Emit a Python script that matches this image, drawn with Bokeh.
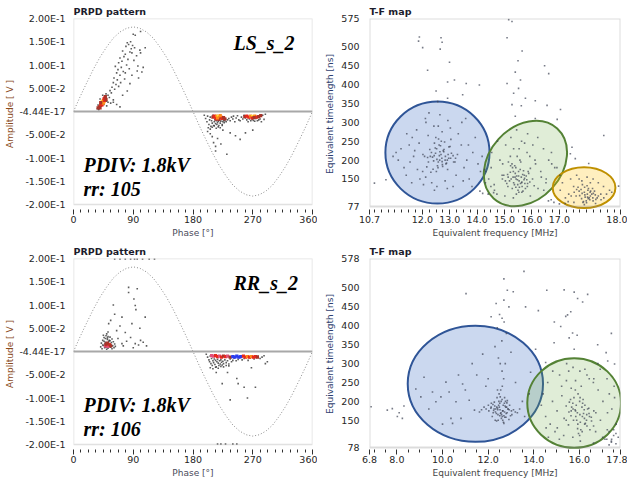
from bokeh.plotting import figure
from bokeh.layouts import column, row
from bokeh.models import FixedTicker, BoxAnnotation, Span, Label
from bokeh.embed import file_html
from bokeh.resources import INLINE

# ---------------------------------------------------------------- data
sine_phase = [0, 10, 20, 30, 40, 50, 60, 70, 80, 90, 100, 110, 120, 130, 140, 150, 160, 170, 180,
              190, 200, 210, 220, 230, 240, 250, 260, 270, 280, 290, 300, 310, 320, 330, 340, 350, 360]
sine_amp = [0, 0.032, 0.062, 0.091, 0.117, 0.139, 0.158, 0.171, 0.179, 0.182, 0.179, 0.171, 0.158,
            0.139, 0.117, 0.091, 0.062, 0.032, 0, -0.032, -0.062, -0.091, -0.117, -0.139, -0.158,
            -0.171, -0.179, -0.182, -0.179, -0.171, -0.158, -0.139, -0.117, -0.091, -0.062, -0.032, 0]

prpd_xticks = [0, 90, 180, 270, 360]
prpd_yticks = [0.2, 0.15, 0.1, 0.05, 0.0, -0.05, -0.1, -0.15, -0.2]
prpd_ytick_labels = ["2.00E-1", "1.50E-1", "1.00E-1", "5.00E-2", "-4.44E-17",
                     "-5.00E-2", "-1.00E-1", "-1.50E-1", "-2.00E-1"]

ls_texts = ["LS_s_2", "PDIV: 1.8kV", "rr: 105"]
rr_texts = ["RR_s_2", "PDIV: 1.8kV", "rr: 106"]

# LS PRPD: (phase deg, amplitude V)
ls_dots = [(40,0.012),(42,0.018),(46,0.015),(48,0.028),(50,0.022),(52,0.035),(54,0.030),(55,0.045),(57,0.040),(58,0.052),
           (60,0.025),(60,0.062),(61,0.072),(62,0.048),(63,0.097),(64,0.058),(65,0.083),(66,0.068),(67,0.090),(68,0.054),
           (68,0.105),(70,0.078),(70,0.115),(71,0.062),(72,0.095),(73,0.108),(74,0.035),(74,0.130),(75,0.086),(76,0.118),
           (77,0.070),(78,0.123),(78,0.083),(79,0.140),(80,0.100),(81,0.044),(81,0.148),(82,0.112),(83,0.144),(84,0.092),
           (85,0.128),(85,0.060),(86,0.150),(87,0.135),(88,0.126),(88,0.078),(89,0.142),(90,0.166),(91,0.110),(92,0.137),
           (93,0.164),(95,0.120),(96,0.087),(97,0.098),(98,0.072),(100,0.132),(101,0.126),(101,0.172),(103,0.085),(105,0.095),
           (108,0.137),(60,0.020),(65,0.015),(70,0.010),(56,0.018),(36,0.006),(38,0.004),(40,0.027),(50,0.012),(52,0.020),
           (49,0.038),(44,0.035),(37,0.014),
           (197,-0.008),(199,-0.015),(201,-0.022),(202,-0.010),(204,-0.028),(205,-0.018),(206,-0.012),(207,-0.032),(208,-0.020),
           (209,-0.025),(210,-0.008),(211,-0.030),(212,-0.022),(213,-0.018),(214,-0.026),(215,-0.020),(216,-0.028),(217,-0.024),
           (218,-0.021),(219,-0.030),(220,-0.019),(221,-0.025),(222,-0.021),(223,-0.017),(224,-0.028),(225,-0.022),(226,-0.019),
           (227,-0.024),(228,-0.020),(229,-0.016),(230,-0.022),(232,-0.018),(234,-0.015),(236,-0.020),(238,-0.012),(240,-0.016),
           (241,-0.010),(243,-0.022),(245,-0.014),(247,-0.009),(249,-0.018),(251,-0.020),(253,-0.012),(255,-0.016),(257,-0.008),
           (259,-0.014),(261,-0.018),(263,-0.022),(265,-0.016),(267,-0.020),(269,-0.017),(271,-0.019),(273,-0.021),(275,-0.015),
           (277,-0.020),(279,-0.018),(281,-0.016),(283,-0.022),(285,-0.008),(287,-0.017),(289,-0.006),(203,-0.035),(206,-0.038),
           (209,-0.034),(212,-0.031),(215,-0.036),(218,-0.033),(221,-0.035),(224,-0.030),
           (202,-0.043),(209,-0.054),(211,-0.067),(214,-0.075),(231,-0.092),(251,-0.060),(259,-0.046),(206,-0.048),(217,-0.058),
           (225,-0.040),(236,-0.046),(244,-0.052),(270,-0.040),(214,-0.085),(222,-0.070)]
# hot spots: (phase, amplitude, intensity level)
ls_hot = [(39,0.010,0),(41,0.013,1),(42,0.017,1),(43,0.020,2),(44,0.022,3),(45,0.024,2),(46,0.027,1),(47,0.029,1),
          (48,0.032,0),(43,0.014,1),(45,0.018,2),(46,0.021,2),(47,0.024,1),(41,0.019,0),(49,0.026,0),(40,0.008,0),(37,0.008,0),
          (210,-0.012,0),(212,-0.010,1),(214,-0.012,1),(216,-0.010,2),(218,-0.011,3),(220,-0.013,2),(222,-0.012,1),
          (224,-0.015,1),(226,-0.013,0),(228,-0.016,0),(215,-0.016,1),(219,-0.017,0),(221,-0.009,2),(217,-0.014,2),
          (258,-0.011,0),(261,-0.010,1),(264,-0.012,1),(267,-0.010,2),(270,-0.011,3),(273,-0.010,2),(276,-0.012,1),
          (279,-0.011,0),(282,-0.009,0),(269,-0.014,1),(272,-0.013,0)]

# RR PRPD
rr_dots = [(41,0.010),(42,0.018),(43,0.006),(44,0.024),(45,0.013),(46,0.030),(47,0.008),(48,0.020),(49,0.034),(50,0.012),
           (51,0.026),(52,0.007),(53,0.022),(54,0.016),(55,0.031),(56,0.009),(57,0.019),(58,0.027),(59,0.012),(60,0.021),
           (61,0.008),(62,0.016),(63,0.011),(44,0.014),(46,0.022),(48,0.028),(50,0.005),(52,0.032),(54,0.024),(56,0.014),
           (58,0.006),(45,0.035),(47,0.016),(49,0.009),(51,0.029),(53,0.018),(55,0.023),(57,0.013),(50,0.038),(52,0.042),
           (83,0.138),(96,0.135),(91,0.113),(93,0.099),(108,0.074),(73,0.074),(53,0.060),(78,0.041),(93,0.017),(73,0.017),
           (98,0.014),(83,0.127),(94,0.090),(56,0.067),(101,0.024),(65,0.045),(70,0.055),(86,0.030),(105,0.020),(62,0.080),
           (88,0.060),(110,0.012),(67,0.028),(80,0.022),(75,0.012),(90,0.008),(60,0.100),(100,0.050),
           (62,0.199),(70,0.199),(78,0.199),(86,0.199),(92,0.199),(96,0.199),(104,0.199),(114,0.199),(122,0.199),
           (200,-0.006),(202,-0.012),(204,-0.018),(205,-0.022),(206,-0.010),(207,-0.026),(208,-0.015),(209,-0.030),(210,-0.020),
           (211,-0.024),(212,-0.016),(213,-0.028),(214,-0.019),(215,-0.033),(216,-0.022),(217,-0.017),(218,-0.025),(219,-0.030),
           (220,-0.020),(221,-0.027),(222,-0.018),(223,-0.023),(224,-0.029),(225,-0.021),(226,-0.026),(228,-0.018),(230,-0.024),
           (232,-0.020),(234,-0.027),(236,-0.016),(238,-0.022),(240,-0.019),(242,-0.014),(245,-0.020),(248,-0.017),(251,-0.013),
           (254,-0.018),(257,-0.015),(260,-0.012),(263,-0.019),(266,-0.014),(269,-0.011),(272,-0.016),(275,-0.013),(278,-0.010),
           (281,-0.015),(284,-0.012),(287,-0.009),(206,-0.035),(210,-0.037),(214,-0.034),(218,-0.036),(222,-0.032),(226,-0.033),
           (230,-0.030),(234,-0.031),
           (224,-0.069),(248,-0.069),(257,-0.077),(274,-0.077),(262,-0.100),(236,-0.104),(232,-0.045),(289,-0.026),(292,-0.022),
           (268,-0.035),(215,-0.045),(246,-0.058),
           (217,-0.199),(222,-0.199),(229,-0.199),(240,-0.199),(246,-0.199)]
rr_hot = [(48,0.012,5),(50,0.014,1),(52,0.011,5),(54,0.015,1),(51,0.018,0),(56,0.012,0),(49,0.016,0),
          (208,-0.009,5),(211,-0.010,5),(214,-0.009,1),(217,-0.011,1),(220,-0.010,5),(223,-0.012,1),(226,-0.010,0),
          (229,-0.011,1),(232,-0.010,5),(236,-0.012,0),(240,-0.011,4),(243,-0.012,4),(246,-0.010,4),(249,-0.012,4),
          (252,-0.011,4),(256,-0.010,1),(259,-0.012,1),(262,-0.011,2),(265,-0.012,1),(268,-0.011,2),(271,-0.012,1),
          (274,-0.011,1),(277,-0.012,0)]

# LS T-F map (frequency MHz, timelength ns)
tf1_xticks = [10.07, 12.0, 13.0, 14.0, 15.0, 16.0, 17.0, 19.23]
tf1_xtick_labels = ["10.7", "12.0", "13.0", "14.0", "15.0", "16.0", "17.0", "18.0"]
tf1_yticks = [77, 150, 200, 250, 300, 350, 400, 450, 500, 575]
tf1_clusters = ["blue", "green", "yellow"]
tf1_ell_f = [12.55, 15.76, 17.90]
tf1_ell_t = [220, 191, 127]
tf1_ell_w = [3.80, 3.45, 2.29]
tf1_ell_h = [270, 192.5, 108]
tf1_ell_angle = [0.0, 0.834, 0.0]
tf1_dots = [(12.62,212),(12.71,205),(12.48,218),(12.83,200),(12.37,208),(12.94,215),(12.58,195),(12.76,225),(12.29,210),(13.03,205),
            (12.52,230),(12.86,190),(12.64,222),(12.41,198),(12.97,235),(12.68,215),(12.19,207),(13.12,212),(12.55,185),(12.79,228),
            (12.61,240),(12.33,220),(12.91,200),(12.73,188),(12.44,245),(13.06,218),(12.08,210),(12.57,180),(12.84,210),(12.47,232),
            (12.22,195),(13.21,205),(12.69,250),(12.39,176),(12.88,192),(12.63,200),(12.27,228),(13.01,236),(12.51,170),(12.81,248),
            (12.02,215),(12.74,183),(12.59,256),(12.43,212),(13.14,195),(12.92,175),(12.16,182),(12.53,202),(12.78,222),(12.66,238),
            (12.31,168),(13.28,215),(12.72,196),(12.49,260),(12.96,205),
            (11.12,200),(11.33,180),(11.04,220),(11.52,240),(11.41,160),(11.68,210),(11.63,260),(11.82,175),(11.22,230),(11.91,150),
            (11.55,195),(11.79,280),(12.04,135),(12.13,300),(11.72,225),(12.21,265),(12.01,170),(12.34,140),(12.11,310),(12.42,290),
            (12.64,320),(12.83,145),(13.02,285),(12.53,130),(13.23,160),(13.42,240),(13.31,270),(13.62,200),(13.52,180),(13.84,220),
            (13.71,150),(14.03,190),(13.93,260),(14.18,210),(13.44,300),(13.12,130),(12.93,305),(12.72,275),(12.24,325),(11.61,140),
            (13.58,310),(14.12,170),(13.81,130),(12.44,120),(13.04,255),(11.43,270),(12.91,125),(13.49,145),(11.88,245),(12.58,290),
            (13.19,195),(10.93,210),(14.27,175),(12.12,155),(13.68,240),
            (15.42,150),(15.53,145),(15.61,155),(15.33,140),(15.72,160),(15.48,135),(15.24,150),(15.81,148),(15.39,165),(15.64,130),
            (15.13,155),(15.92,142),(15.51,170),(15.28,125),(15.74,138),(15.44,158),(15.57,175),(15.03,145),(16.02,150),(15.49,120),
            (15.21,168),(15.83,130),(15.37,185),(15.66,162),(15.31,155),(15.69,172),(15.54,128),(15.08,138),(15.88,165),(15.41,180),
            (15.62,140),(15.27,190),(15.79,158),(15.52,115),(15.18,145),(15.73,152),(15.36,135),(15.59,195),(14.97,160),(15.94,178),
            (15.47,148),(15.32,170),(15.76,125),(15.43,110),(15.63,142),(15.22,185),(15.84,138),(15.56,200),(15.11,162),(16.08,132),
            (15.38,155),(15.67,118),(15.29,180),(15.71,148),(15.46,210),(14.92,150),(15.86,170),(15.41,128),(15.58,138),(15.51,158),
            (14.42,150),(14.63,120),(14.51,180),(14.83,200),(14.72,110),(15.04,240),(14.91,160),(15.23,260),(15.12,130),(15.44,280),
            (15.33,230),(15.62,250),(15.84,270),(16.03,240),(15.92,210),(16.21,260),(16.13,190),(16.42,230),(16.32,170),(16.61,200),
            (16.52,150),(16.83,180),(16.71,220),(17.02,160),(14.53,220),(14.74,250),(15.01,105),(15.32,100),(15.63,115),(15.94,105),
            (16.22,125),(16.51,140),(14.62,135),(14.93,190),(15.21,210),(15.53,230),(15.82,220),(16.11,200),(16.43,120),(16.72,190),
            (14.31,170),(15.14,195),(15.73,245),(16.34,155),(16.91,180),
            (18.02,110),(18.13,105),(17.91,115),(18.22,100),(17.83,112),(18.04,120),(18.31,108),(17.72,118),(18.11,95),(17.94,102),
            (18.06,125),(18.24,112),(17.81,98),(18.42,105),(17.63,122),(17.98,92),(18.14,118),(17.92,128),(18.33,96),(17.74,106),
            (18.21,125),(17.86,88),(18.03,102),(18.12,115),(17.88,90),(18.51,110),(17.54,115),(18.01,132),(18.23,92),(17.79,122),
            (18.09,100),(17.93,108),(18.28,118),(17.68,128),(18.05,98),(18.38,100),(17.61,105),(18.18,110),(17.84,135),(17.99,87),
            (17.03,120),(17.22,100),(17.11,140),(17.32,90),(17.41,150),(17.52,130),(17.34,110),(17.63,160),(17.82,145),(18.01,155),
            (18.23,150),(18.42,140),(18.61,130),(18.72,110),(18.83,120),(18.52,95),(17.21,85),(17.53,88),(17.91,82),(18.32,85),
            (18.62,100),(17.43,105),(17.72,150),(18.13,140),(18.91,115),
            (11.89,526),(12.01,498),(11.86,515),(12.68,524),(12.65,494),(12.72,512),(12.99,459),(12.19,438),(13.17,412),(12.92,407),
            (13.60,403),(14.08,399),(12.50,383),(13.47,373),(12.92,364),(12.56,355),(10.25,139),(10.67,148),(15.15,572),(15.27,567),
            (15.09,524),(15.64,489),(15.49,463),(16.46,450),(15.39,433),(16.61,429),(15.58,412),(15.09,403),(15.51,390),(15.33,377),
            (15.76,364),(15.27,347),(15.61,344),(16.12,357),(16.55,345),(17.04,334),(15.39,316),(16.12,310),(16.92,308),(18.62,265),
            (17.46,234),(17.40,217),(17.58,204),(18.07,191),(19.16,131),(14.20,112),(14.40,110),(14.60,114),(14.10,118),(16.60,92),
            (16.80,88),(17.00,84),(16.70,95),(14.30,140),(14.50,130)]

# RR T-F map
tf2_xticks = [6.8, 8.0, 10.0, 12.0, 14.0, 16.0, 17.8]
tf2_xtick_labels = ["6.8", "8.0", "10.0", "12.0", "14.0", "16.0", "17.8"]
tf2_yticks = [78, 150, 200, 250, 300, 350, 400, 450, 500, 578]
tf2_clusters = ["blue", "green"]
tf2_ell_f = [11.44, 15.77]
tf2_ell_t = [246.5, 195.7]
tf2_ell_w = [5.93, 4.11]
tf2_ell_h = [307, 237]
tf2_ell_angle = [0.0, 0.0]
tf2_dots = [(12.52,178),(12.63,175),(12.41,182),(12.72,172),(12.33,180),(12.81,185),(12.54,168),(12.66,190),(12.24,176),(12.92,178),
            (12.43,165),(12.74,188),(12.51,195),(12.62,160),(12.32,172),(12.83,170),(12.12,182),(13.02,175),(12.47,200),(12.58,155),
            (12.38,185),(12.69,162),(12.21,192),(12.88,180),(12.56,170),(12.61,205),(12.03,175),(13.11,178),(12.44,150),(12.71,195),
            (12.29,188),(12.78,158),(12.53,212),(12.64,150),(11.91,180),(13.19,172),(12.36,168),(12.76,200),(12.49,185),(12.59,165),
            (12.27,198),(12.86,180),(12.18,160),(12.94,190),(12.48,220),(12.67,145),(11.82,185),(13.28,170),(12.42,178),(12.73,158),
            (12.14,195),(13.04,165),(12.55,230),(12.65,175),(12.31,150),(12.84,202),(12.01,190),(12.39,210),(12.77,185),(12.51,162),
            (12.62,240),(11.71,178),(13.38,180),(12.22,170),(12.91,152),(12.46,190),(12.68,260),(12.37,148),(12.72,210),(12.26,180),
            (12.82,196),(11.62,172),(12.98,162),(12.57,200),(12.61,280),(12.13,185),(12.79,168),(12.41,230),(12.69,142),(12.53,300),
            (7.58,177),(7.80,181),(8.02,160),(8.24,155),(8.31,188),(6.87,186),(8.10,170),(9.19,264),(8.83,233),(9.05,212),
            (9.56,225),(9.71,199),(9.93,212),(10.15,251),(10.29,225),(10.59,199),(10.37,155),(10.44,142),(10.81,155),(10.88,246),
            (11.17,203),(11.40,177),(11.76,325),(10.00,140),(9.40,180),(11.00,230),(11.50,270),(11.90,240),(13.50,200),(13.80,220),
            (13.20,250),(13.60,160),(12.00,260),(11.30,300),(10.70,270),
            (11.03,485),(12.13,424),(12.35,459),(13.57,544),(12.69,524),(12.84,494),(13.10,490),(14.57,494),(15.33,495),(15.77,489),
            (16.36,483),(15.92,472),(16.14,463),(12.69,468),(12.91,450),(13.64,450),(15.48,429),(15.62,437),(15.40,425),(15.18,398),
            (12.61,420),(12.70,410),(12.50,430),(15.70,381),(15.55,368),(14.89,355),(15.90,375),(14.08,338),(15.77,338),(17.17,329),
            (17.24,307),(17.54,299),(14.52,303),(13.86,277),(12.40,395),(12.80,380),(12.60,360),(12.30,345),(13.00,330),(12.45,315),
            (12.75,300),(14.20,440),(16.80,350),(17.40,380),(14.90,410),
            (16.02,165),(16.13,160),(15.91,170),(16.22,155),(15.83,175),(16.31,150),(15.72,180),(16.42,168),(15.63,162),(16.04,145),
            (16.11,185),(15.93,140),(16.24,190),(15.81,178),(16.52,158),(15.54,172),(16.01,200),(16.33,135),(15.74,150),(16.14,195),
            (15.92,128),(16.41,182),(15.61,205),(16.23,140),(15.84,160),(16.63,175),(15.42,188),(16.03,210),(16.12,120),(15.94,220),
            (16.32,165),(15.71,195),(16.53,148),(15.52,138),(16.21,178),(15.82,230),(16.06,125),(16.44,160),(15.64,175),(16.16,205),
            (15.96,115),(16.72,170),(15.33,155),(16.08,240),(16.26,142),(15.86,190),(16.36,180),(15.76,210),(16.62,135),(15.56,198),
            (16.18,168),(15.88,150),(16.46,125),(15.66,185),(16.01,110),
            (14.33,190),(14.52,160),(14.41,220),(14.72,140),(14.61,250),(14.93,120),(14.82,200),(15.13,270),(15.02,175),(15.31,110),
            (15.22,240),(15.53,280),(15.42,150),(15.71,105),(16.63,260),(16.82,230),(16.71,120),(17.03,200),(16.92,150),(17.21,260),
            (17.12,100),(17.42,180),(17.31,220),(17.61,140),(17.52,240),(14.54,130),(14.83,280),(15.12,100),(15.43,255),(15.72,290),
            (16.04,95),(16.33,270),(16.62,90),(16.91,285),(17.23,170),(17.54,210),(14.64,105),(15.03,130),(15.44,300),(15.83,255),
            (16.24,285),(16.61,250),(17.02,105),(17.41,100),(15.23,215),(15.64,235),(16.02,280),(16.43,260),(16.81,300),(17.22,125),
            (17.20,100),(17.40,95),(17.50,110),(17.60,88),(17.30,120),(17.70,105),(17.50,125),(17.40,92),(17.60,115),(17.30,85)]

# ---------------------------------------------------------------- style
FONT = "DejaVu Sans"
SERIF = "Liberation Serif"
TICK_COLOR = "#262626"
HOT_PALETTE = ["#a8342a", "#e8281c", "#ff8c1a", "#ffe43a", "#2a3cf0", "#e0507a"]
ELL_STYLE = {"blue": ("#4472c4", 0.28, "#2f5597"),
             "green": ("#70ad47", 0.22, "#548235"),
             "yellow": ("#ffc000", 0.25, "#bf9000")}


def base_fig(width, height, xr, yr, left, right, top, bottom, title):
    p = figure(width=width, height=height, x_range=xr, y_range=yr,
               output_backend="svg", toolbar_location=None,
               min_border_left=left, min_border_right=right,
               min_border_top=top, min_border_bottom=bottom, title=title)
    p.outline_line_color = None
    p.xgrid.visible = False
    p.ygrid.visible = False
    p.title.text_font = FONT
    p.title.text_font_size = "9.5px"
    p.title.text_font_style = "bold"
    p.title.text_color = "#1c1c2c"
    p.title.align = "left"
    p.title.standoff = 3
    for ax in (p.xaxis[0], p.yaxis[0]):
        ax.axis_line_color = None
        ax.major_label_text_font = FONT
        ax.major_label_text_font_size = "9.5px"
        ax.major_label_text_color = TICK_COLOR
        ax.axis_label_text_font = FONT
        ax.axis_label_text_font_size = "9px"
        ax.axis_label_text_font_style = "normal"
    y = p.yaxis[0]
    y.major_tick_in = 0
    y.major_tick_out = 0
    y.minor_tick_in = 0
    y.minor_tick_out = 0
    y.major_tick_line_color = None
    y.minor_tick_line_color = None
    x = p.xaxis[0]
    x.major_tick_in = 0
    x.major_tick_out = 5
    x.minor_tick_in = 0
    x.minor_tick_out = 3
    x.major_tick_line_color = "#303030"
    x.minor_tick_line_color = "#303030"
    x.major_label_standoff = 1
    x.axis_label_standoff = 2
    return p


def prpd_panel(height, top, bottom, dots, hot, texts):
    ext = 5 * 0.4 / 186
    p = base_fig(317, height, (0, 360), (-0.2 - ext, 0.2), 73, 5, top, bottom, "PRPD pattern")
    p.xaxis.ticker = FixedTicker(ticks=prpd_xticks,
                                 minor_ticks=[i * 11.25 for i in range(33) if i % 8])
    p.yaxis.ticker = FixedTicker(ticks=prpd_yticks)
    p.yaxis.major_label_overrides = dict(zip(prpd_yticks, prpd_ytick_labels))
    p.yaxis.major_label_standoff = 8
    p.yaxis.axis_label_standoff = 1
    p.xaxis.axis_label = "Phase [°]"
    p.xaxis.axis_label_text_color = "#4a4a5a"
    p.yaxis.axis_label = "Amplitude [ V ]"
    p.yaxis.axis_label_text_color = "#8a4b1c"
    p.add_layout(BoxAnnotation(left=0, right=360, bottom=-0.2, top=0.2, fill_color=None,
                               line_color="#9a9a9a", line_width=1.5))
    p.add_layout(Span(location=0, dimension="width", line_color="#a8a8a8", line_width=2))
    p.line(sine_phase, sine_amp, line_color="#8c8c8c", line_width=1, line_dash="1 2")
    p.scatter([d[0] for d in dots], [d[1] for d in dots], marker="square", size=1.6,
              fill_color="#333333", line_color=None, fill_alpha=0.8)
    p.scatter([h[0] for h in hot], [h[1] for h in hot], marker="square", size=3.2,
              fill_color=[HOT_PALETTE[h[2]] for h in hot], line_color=None)
    for txt, xx, yy in zip(texts, [241, 15, 15], [0.148, -0.116, -0.166]):
        p.add_layout(Label(x=xx, y=yy, text=txt, text_font=SERIF, text_font_style="bold italic",
                           text_font_size="20px", text_baseline="middle", text_color="black"))
    return p


def tf_panel(height, top, bottom, xr, yr, frame, xticks, xlabels, xminor, yticks,
             clusters, ef, et, ew, eh, ea, dots):
    p = base_fig(310, height, xr, yr, 52, 7, top, bottom, "T-F map")
    p.xaxis.ticker = FixedTicker(ticks=xticks, minor_ticks=xminor)
    p.xaxis.major_label_overrides = dict(zip(xticks, xlabels))
    p.yaxis.ticker = FixedTicker(ticks=yticks)
    p.yaxis.major_label_standoff = 10
    p.yaxis.axis_label_standoff = 3
    p.xaxis.axis_label = "Equivalent frequency [MHz]"
    p.xaxis.axis_label_text_color = "#444444"
    p.yaxis.axis_label = "Equivalent timelength [ns]"
    p.yaxis.axis_label_text_color = "#2f3f6f"
    p.ellipse(x=ef, y=et, width=ew, height=eh, angle=ea,
              fill_color=[ELL_STYLE[c][0] for c in clusters],
              fill_alpha=[ELL_STYLE[c][1] for c in clusters],
              line_color=[ELL_STYLE[c][2] for c in clusters], line_width=2)
    p.scatter([d[0] for d in dots], [d[1] for d in dots], marker="square", size=1.6,
              fill_color="#3d4354", line_color=None, fill_alpha=0.7)
    p.add_layout(BoxAnnotation(left=frame[0], right=frame[1], bottom=frame[2], top=frame[3],
                               fill_color=None, line_color="#8a8a8a", line_width=2))
    return p


p1 = prpd_panel(241, 18, 32, ls_dots, ls_hot, ls_texts)
p3 = prpd_panel(242, 17, 34, rr_dots, rr_hot, rr_texts)

tf1_minor = [10.25 + 0.25 * i for i in range(36) if (10.25 + 0.25 * i) not in tf1_xticks]
p2 = tf_panel(241, 17, 29, (10.07, 19.23), (77 - 3 / 0.3855, 575), (10.07, 19.23, 77, 575),
              tf1_xticks, tf1_xtick_labels, tf1_minor, tf1_yticks,
              tf1_clusters, tf1_ell_f, tf1_ell_t, tf1_ell_w, tf1_ell_h, tf1_ell_angle, tf1_dots)

tf2_minor = [7.0 + 0.5 * i for i in range(22) if (7.0 + 0.5 * i) not in tf2_xticks]
p4 = tf_panel(242, 15, 33, (6.8, 17.8), (78 - 2 / 0.384, 578), (6.8, 17.8, 78, 578),
              tf2_xticks, tf2_xtick_labels, tf2_minor, tf2_yticks,
              tf2_clusters, tf2_ell_f, tf2_ell_t, tf2_ell_w, tf2_ell_h, tf2_ell_angle, tf2_dots)

layout = column(row(p1, p2), row(p3, p4))
open("out.html", "w").write(file_html(layout, INLINE))
